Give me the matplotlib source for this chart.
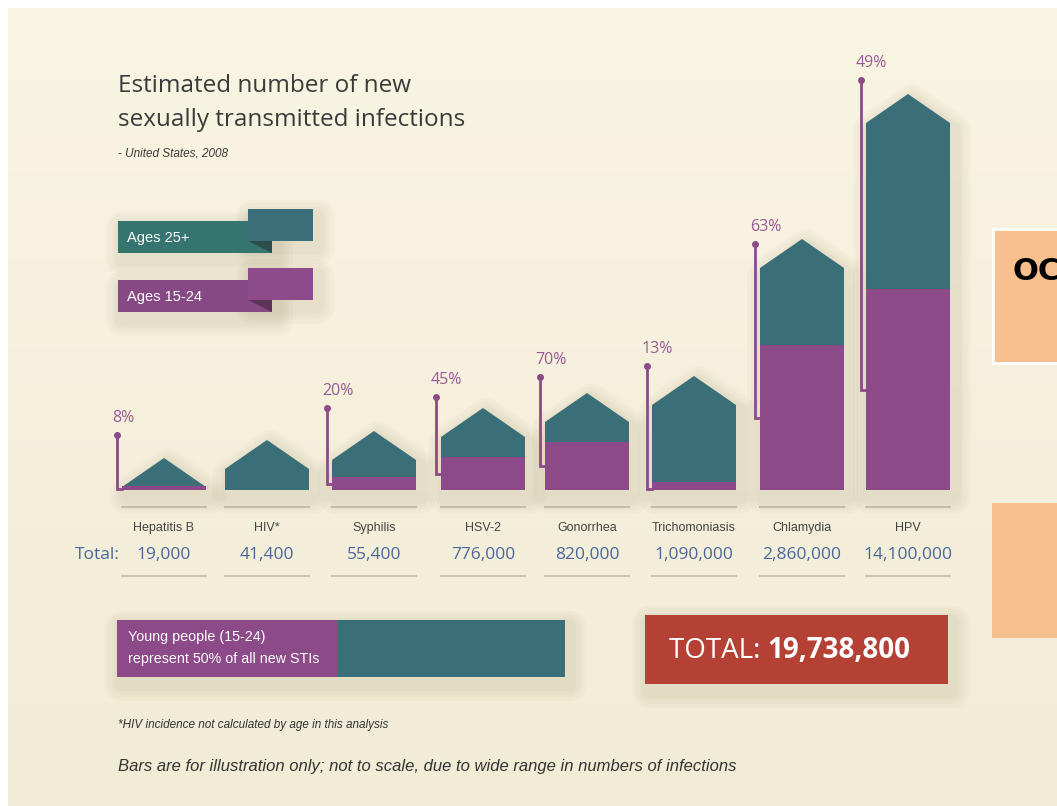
import matplotlib.pyplot as plt
import matplotlib.patheffects as pe
import numpy as np
from matplotlib.patches import Polygon, Rectangle

# ---- data (read from the infographic) ----
diseases = ['Hepatitis B', 'HIV*', 'Syphilis', 'HSV-2', 'Gonorrhea',
            'Trichomoniasis', 'Chlamydia', 'HPV']
totals = ['19,000', '41,400', '55,400', '776,000', '820,000',
          '1,090,000', '2,860,000', '14,100,000']
youth_pct = ['8%', None, '20%', '45%', '70%', '13%', '63%', '49%']
# illustrative bar heights (not to scale), wall height and 15-24 part
wall_height = [3, 21, 30, 53, 68, 85, 222, 367]
youth_height = [4, 0, 13, 33, 48, 8, 145, 201]
grand_total = '19,738,800'
youth_share = 0.49

# ---- layout ----
W, H = 1057, 806
base = 490
bar_left = [122, 225, 332, 441, 545, 652, 760, 866]
bar_w = 84
roof = 29
label_lift = [23, 0, 23, 11, 16, 10, -5, 14]

teal = '#3a6f77'
teal_legend = '#367470'
purple = '#8c4a88'
pct_color = '#9a5a97'
blue = '#4a679c'
gray_text = '#444444'
rule = '#cbc2b4'
shadow = [pe.withStroke(linewidth=lw, foreground='#7a6a40', alpha=0.03,
                        joinstyle='round', capstyle='round')
          for lw in (24, 19, 14, 10)]

main_font = ['Open Sans', 'DejaVu Sans']
narrow_font = ['Liberation Sans Narrow', 'Liberation Sans', 'DejaVu Sans']

fig = plt.figure(figsize=(W / 100, H / 100), dpi=100)
fig.patch.set_facecolor('white')
ax = fig.add_axes([0, 0, 1, 1])
ax.set_xlim(0, W)
ax.set_ylim(H, 0)
ax.axis('off')

# cream background with light vertical gradient
grad = np.linspace(0, 1, 200)[:, None]
c_top = np.array([0.975, 0.960, 0.890])
c_bot = np.array([0.945, 0.925, 0.840])
img = c_top + (c_bot - c_top) * grad[..., None]
ax.imshow(np.repeat(img, 2, axis=1), extent=(8, W, H, 8), aspect='auto', zorder=0)


def shaded(patch, z=2, sh=True):
    if sh:
        s = Polygon(patch.get_xy() + np.array([4, 7]), closed=True,
                    facecolor='none', edgecolor='none', zorder=z - 0.5)
        s.set_path_effects(shadow)
        ax.add_patch(s)
    patch.set_zorder(z)
    ax.add_patch(patch)


# title
ax.text(118, 86, 'Estimated number of new', fontsize=17.5, color='#3a3a3a',
        family=main_font, weight='medium', va='center', ha='left')
ax.text(118, 120, 'sexually transmitted infections', fontsize=17.5, color='#3a3a3a',
        family=main_font, weight='medium', va='center', ha='left')
ax.text(118, 153, '- United States, 2008', fontsize=8.5, color='#3a3a3a',
        family=narrow_font, style='italic', va='center', ha='left')

# legend ribbons
for y0, c_main, c_flap, c_fold, txt in [
        (221, teal_legend, '#3b6e79', '#2a3f3c', 'Ages 25+'),
        (280, '#874984', '#8e4b8b', '#4a2e48', 'Ages 15-24')]:
    shaded(Polygon([[248, y0 - 12], [313, y0 - 12], [313, y0 + 20], [248, y0 + 20]],
                   closed=True, facecolor=c_flap, edgecolor='none'), z=2)
    shaded(Polygon([[118, y0], [272, y0], [272, y0 + 32], [118, y0 + 32]],
                   closed=True, facecolor=c_main, edgecolor='none'), z=3)
    ax.add_patch(Polygon([[248, y0 + 20], [272, y0 + 20], [272, y0 + 32]],
                         closed=True, facecolor=c_fold, edgecolor='none',
                         alpha=0.7, zorder=3.5))
    ax.add_patch(Polygon([[248, y0 - 12], [313, y0 - 12], [313, y0 + 20], [248, y0 + 20]],
                         closed=True, facecolor=c_flap, edgecolor='none', zorder=3.2))
    ax.text(127, y0 + 17, txt, fontsize=10.5, color='white', family=narrow_font,
            va='center', ha='left', zorder=4)

# house-shaped bars
for i, name in enumerate(diseases):
    x0 = bar_left[i]
    x1 = x0 + bar_w
    xc = (x0 + x1) / 2
    top = base - wall_height[i]
    apex = top - roof
    house = Polygon([[x0, base], [x0, top], [xc, apex], [x1, top], [x1, base]],
                    closed=True, facecolor=teal, edgecolor='none')
    shaded(house, z=2)
    yh = youth_height[i]
    if yh > 0:
        ax.add_patch(Rectangle((x0, base - yh), bar_w, yh, facecolor=purple,
                               edgecolor='none', zorder=3))
    if youth_pct[i]:
        lx = x0 - 5
        dot = apex - label_lift[i]
        foot = base - yh / 2 if yh > 8 else base - 1
        ax.plot([lx, lx, x0], [dot, foot, foot], color=purple, lw=2,
                solid_joinstyle='miter', zorder=3)
        ax.plot([lx], [dot], 'o', color=purple, ms=4, zorder=3)
        ax.text(lx - 5, dot - 17, youth_pct[i], fontsize=11.5, color=pct_color,
                family=main_font, va='center', ha='left')
    # labels and rules
    ax.plot([x0, x1], [507, 507], color=rule, lw=1.5, zorder=1)
    ax.plot([x0, x1], [576, 576], color=rule, lw=1.5, zorder=1)
    ax.text(xc, 528, name, fontsize=9, color=gray_text, family=narrow_font,
            va='center', ha='center')
    ax.text(xc, 555, totals[i], fontsize=12.5, color=blue, family=main_font,
            va='center', ha='center')

ax.text(120, 555, 'Total:', fontsize=12.5, color=blue, family=main_font,
        va='center', ha='right')

# young people share bar
bx0, bx1, by0, by1 = 117, 565, 620, 677
split = bx0 + (bx1 - bx0) * youth_share
shaded(Polygon([[bx0, by0], [bx1, by0], [bx1, by1], [bx0, by1]], closed=True,
               facecolor=teal, edgecolor='none'), z=2)
ax.add_patch(Rectangle((bx0, by0), split - bx0, by1 - by0, facecolor=purple,
                       edgecolor='none', zorder=3))
ax.text(128, 637, 'Young people (15-24)', fontsize=10.3, color='white',
        family=narrow_font, va='center', ha='left', zorder=4)
ax.text(128, 659, 'represent 50% of all new STIs', fontsize=10.3, color='white',
        family=narrow_font, va='center', ha='left', zorder=4)

# total box
shaded(Polygon([[645, 615], [948, 615], [948, 684], [645, 684]], closed=True,
               facecolor='#b54134', edgecolor='none'), z=2)
t1 = ax.text(669, 651, 'TOTAL: ', fontsize=20, color='white', family=main_font,
             va='center', ha='left', zorder=4)
fig.canvas.draw()
bb = t1.get_window_extent()
x_next = ax.transData.inverted().transform((bb.x1, bb.y0))[0]
ax.text(x_next, 651, grand_total, fontsize=20, color='white', family=main_font,
        weight='bold', va='center', ha='left', zorder=4)

# footnotes
ax.text(118, 725, '*HIV incidence not calculated by age in this analysis',
        fontsize=8.5, color='#333333', family=narrow_font, style='italic',
        va='center', ha='left')
ax.text(118, 766, 'Bars are for illustration only; not to scale, due to wide range in numbers of infections',
        fontsize=12, color='#333333', family=narrow_font, style='italic',
        va='center', ha='left')

# slide elements cut off on the right
ax.add_patch(Rectangle((993, 229), 70, 134, facecolor='#f9c08f', edgecolor='white',
                       lw=2, zorder=5))
ax.text(1012, 271, 'OC', fontsize=22, weight='bold', color='black',
        family=['DejaVu Sans'], va='center', ha='left', zorder=6, clip_on=True)
ax.add_patch(Rectangle((992, 503), 70, 135, facecolor='#f9c08f', edgecolor='none',
                       zorder=5))

fig.savefig('out.png', dpi=100)
